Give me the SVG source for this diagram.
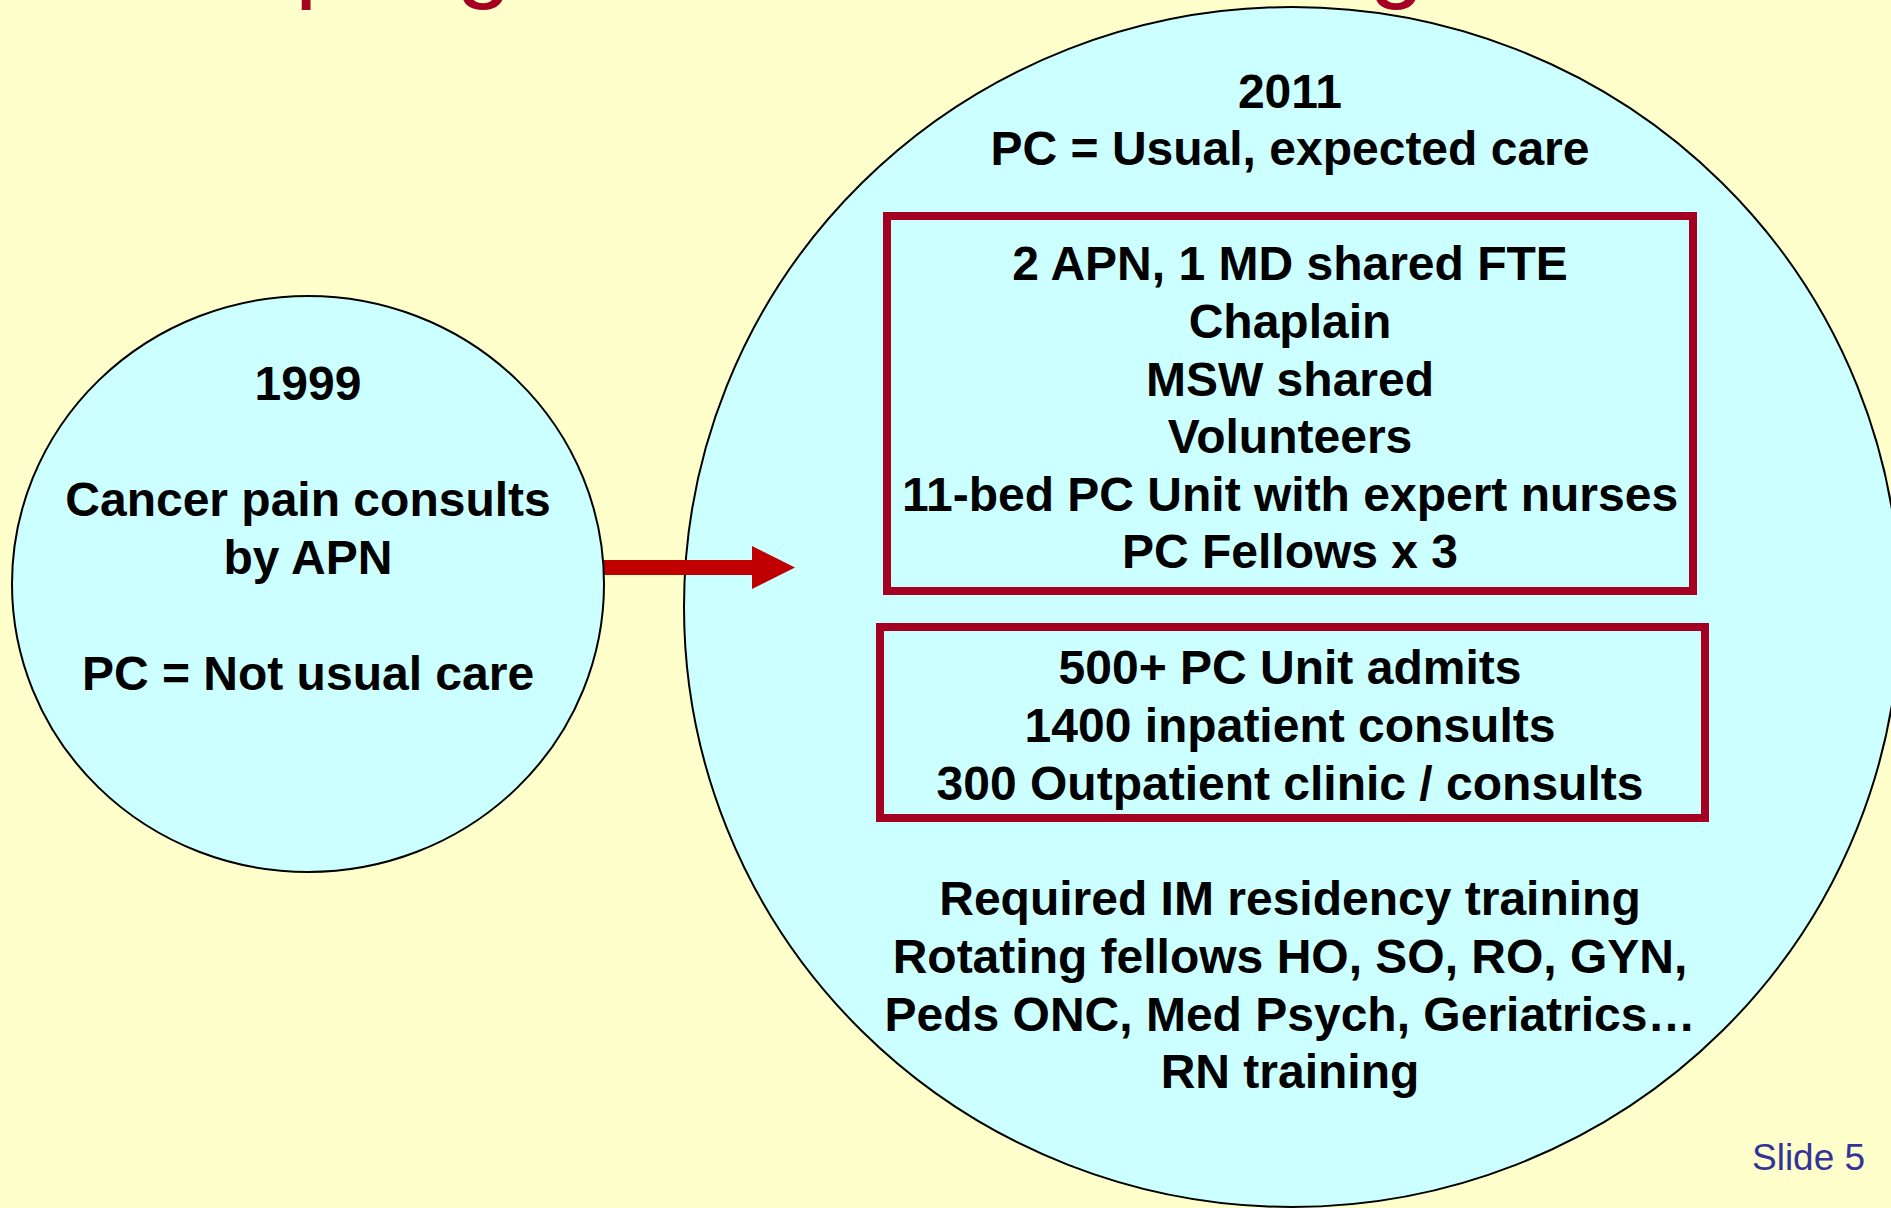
<svg xmlns="http://www.w3.org/2000/svg" width="1891" height="1208" viewBox="0 0 1891 1208">
  <style>
    .bg { fill: #FFFFCC; }
    .circle { fill: #CCFFFF; stroke: #000000; stroke-width: 2; }
    .box { fill: none; stroke: #A50021; stroke-width: 8; }
    .t { font-family: "Liberation Sans", Arial, sans-serif; font-weight: bold; font-size: 48px; fill: #000000; text-anchor: middle; }
    .title { font-family: "Liberation Sans", Arial, sans-serif; font-size: 100px; fill: #A50021; }
    .slide { font-family: "Liberation Sans", Arial, sans-serif; font-size: 37px; fill: #333399; }
    .arrow { fill: #C00000; }
  </style>
  <rect class="bg" x="0" y="0" width="1891" height="1208"/>

  <g id="title">
    <text class="title" x="295" y="-11">p</text>
    <text class="title" x="456" y="-11">g</text>
    <text class="title" x="1369" y="-11">g</text>
  </g>

  <g id="node-2011">
    <ellipse class="circle" cx="1292" cy="607" rx="608" ry="600"/>
    <text class="t" x="1290" y="108">2011</text>
    <text class="t" x="1290" y="165">PC = Usual, expected care</text>
  </g>

  <g id="node-staff">
    <rect class="box" x="887" y="216" width="806" height="375"/>
    <text class="t" x="1290" y="280">2 APN, 1 MD shared FTE</text>
    <text class="t" x="1290" y="338">Chaplain</text>
    <text class="t" x="1290" y="396">MSW shared</text>
    <text class="t" x="1290" y="453">Volunteers</text>
    <text class="t" x="1290" y="511">11-bed PC Unit with expert nurses</text>
    <text class="t" x="1290" y="568">PC Fellows x 3</text>
  </g>

  <g id="node-volume">
    <rect class="box" x="880" y="627" width="825" height="191"/>
    <text class="t" x="1290" y="684">500+ PC Unit admits</text>
    <text class="t" x="1290" y="742">1400 inpatient consults</text>
    <text class="t" x="1290" y="800">300 Outpatient clinic / consults</text>
  </g>

  <g id="node-training">
    <text class="t" x="1290" y="915">Required IM residency training</text>
    <text class="t" x="1290" y="973">Rotating fellows HO, SO, RO, GYN,</text>
    <text class="t" x="1290" y="1031">Peds ONC, Med Psych, Geriatrics…</text>
    <text class="t" x="1290" y="1088">RN training</text>
  </g>

  <g id="connectors">
    <polygon class="arrow" points="600,560 752,560 752,546 795,567.5 752,589 752,575 600,575"/>
  </g>

  <g id="node-1999">
    <ellipse class="circle" cx="308" cy="584" rx="296" ry="288"/>
    <text class="t" x="308" y="400">1999</text>
    <text class="t" x="308" y="516">Cancer pain consults</text>
    <text class="t" x="308" y="574">by APN</text>
    <text class="t" x="308" y="690">PC = Not usual care</text>
  </g>

  <g id="footer">
    <text class="slide" x="1752" y="1170">Slide 5</text>
  </g>
</svg>
